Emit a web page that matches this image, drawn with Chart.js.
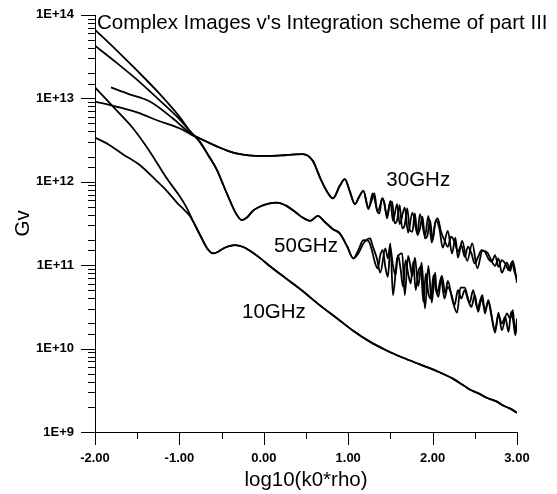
<!DOCTYPE html>
<html lang="en">
<head>
  <meta charset="UTF-8" />
  <title>Complex Images v's Integration scheme of part III</title>
  <script src="https://cdn.jsdelivr.net/npm/chart.js"></script>
  <style>
    body {
      margin: 0;
      background: #fff;
    }
    #chart {
      display: block;
    }
  </style>
</head>
<body>
  <canvas id="chart" width="557" height="494"></canvas>
  <script>
    // values: x = log10(k0*rho), y = log10(Gv)
    const x30a = [-2.00,-1.75,-1.50,-1.25,-1.00,-0.87,-0.70,-0.55,-0.40,-0.28,-0.10,0.07,0.27,0.46,0.58,0.67,0.75,0.82,0.90,0.96,1.02,1.08,1.13,1.18,1.24,1.29,1.35,1.41,1.46,1.50,1.53,1.58,1.61,1.67,1.71,1.76,1.82,1.85,1.91,1.95,1.99,2.04,2.08,2.12,2.18,2.23,2.27,2.30,2.35,2.41,2.47,2.53,2.59,2.65,2.68,2.74,2.78,2.82,2.88,2.92,2.95,3.00];
    const lg30a = [12.96,12.90,12.83,12.73,12.64,12.57,12.49,12.42,12.36,12.33,12.31,12.31,12.32,12.33,12.25,12.04,11.88,11.80,11.95,12.03,11.88,11.73,11.82,11.89,11.67,11.86,11.65,11.80,11.59,11.77,11.53,11.73,11.49,11.69,11.39,11.63,11.38,11.61,11.35,11.59,11.27,11.54,11.44,11.21,11.41,11.14,11.33,11.09,11.29,11.05,11.26,10.96,11.17,11.15,11.09,10.99,11.08,10.91,11.03,10.93,11.05,10.79];

    const x30b = [-1.81,-1.60,-1.35,-1.08,-0.87,-0.70,-0.55,-0.40,-0.28,-0.10,0.07,0.27,0.46,0.58,0.67,0.75,0.82,0.90,0.96,1.02,1.08,1.13,1.18,1.24,
      1.28,1.31,1.34,1.37,1.40,1.43,1.46,1.49,1.52,1.55,1.58,1.61,1.64,1.67,1.70,1.73,1.76,1.79,1.82,1.85,1.88,1.91,1.94,1.97,2.00,2.03,2.06,2.10,2.14,2.18,
      2.22,2.26,2.30,2.34,2.38,2.42,2.46,2.50,2.54,2.58,2.62,2.66,2.70,2.74,2.78,2.82,2.86,2.90,2.94,2.97,3.00];
    const lg30b = [13.13,13.05,12.96,12.76,12.58,12.49,12.42,12.36,12.33,12.31,12.31,12.32,12.33,12.25,12.04,11.88,11.80,11.95,12.03,11.88,11.73,11.82,11.89,11.69,
      11.78,11.86,11.66,11.62,11.80,11.74,11.56,11.72,11.76,11.50,11.54,11.72,11.44,11.48,11.68,11.42,11.40,11.62,11.36,11.44,11.58,11.32,11.36,11.54,11.30,11.50,11.56,11.40,11.30,11.22,
      11.34,11.28,11.16,11.24,11.10,11.22,11.14,11.02,11.10,11.18,11.16,11.08,11.04,11.12,10.98,11.06,11.02,10.94,11.04,10.92,10.84];

    const x50a = [-2.00,-1.75,-1.50,-1.25,-1.00,-0.87,-0.76,-0.66,-0.55,-0.48,-0.40,-0.33,-0.26,-0.20,-0.13,-0.05,0.07,0.15,0.27,0.38,0.46,0.55,0.64,0.72,0.82,0.90,0.99,1.06,1.12,1.18,1.26,1.29,1.34,1.38,1.44,1.47,1.50,1.53,1.58,1.64,1.67,1.71,1.76,1.79,1.83,1.87,1.91,1.95,1.99,2.03,2.05,2.11,2.15,2.18,2.23,2.29,2.33,2.38,2.44,2.48,2.53,2.59,2.62,2.66,2.74,2.78,2.82,2.88,2.92,2.95,2.98,3.00];
    const lg50a = [13.82,13.58,13.33,13.07,12.78,12.60,12.48,12.32,12.13,11.96,11.77,11.62,11.54,11.57,11.65,11.70,11.74,11.75,11.71,11.63,11.57,11.53,11.59,11.52,11.43,11.38,11.22,11.08,11.14,11.26,11.32,11.23,11.08,10.91,11.20,11.08,11.26,10.64,11.08,11.14,10.64,11.11,10.87,11.09,10.75,11.03,10.48,10.99,10.55,10.91,10.66,10.87,10.66,10.81,10.60,10.43,10.73,10.73,10.55,10.70,10.48,10.64,10.42,10.58,10.19,10.43,10.22,10.42,10.36,10.46,10.18,10.36];

    const x50b = [-2.00,-1.75,-1.50,-1.25,-1.00,-0.87,-0.76,-0.66,-0.55,-0.48,-0.40,-0.33,-0.26,-0.20,-0.13,-0.05,0.07,0.15,0.27,0.38,0.46,0.55,0.64,0.72,0.82,0.90,0.99,1.06,1.12,1.18,
      1.24,1.28,1.32,1.35,1.38,1.41,1.44,1.47,1.50,1.53,1.56,1.59,1.62,1.65,1.68,1.71,1.74,1.77,1.80,1.83,1.86,1.89,1.92,1.95,1.98,2.01,2.04,2.07,2.10,2.14,
      2.18,2.22,2.26,2.30,2.34,2.38,2.42,2.46,2.50,2.54,2.58,2.62,2.66,2.70,2.74,2.78,2.82,2.86,2.90,2.93,2.96,2.98,3.00];
    const lg50b = [13.63,13.43,13.22,12.99,12.75,12.60,12.48,12.32,12.13,11.96,11.77,11.62,11.54,11.57,11.65,11.70,11.74,11.75,11.71,11.63,11.57,11.53,11.59,11.52,11.43,11.38,11.22,11.08,11.18,11.30,
      11.29,11.18,11.02,10.96,11.12,11.18,10.98,10.86,11.20,11.00,10.88,11.12,10.96,10.74,11.06,10.90,10.78,11.04,10.70,10.92,10.98,10.56,10.90,10.66,10.60,10.88,10.70,10.62,10.84,10.60,
      10.74,10.66,10.52,10.70,10.60,10.70,10.58,10.50,10.64,10.44,10.60,10.46,10.56,10.38,10.22,10.40,10.30,10.38,10.20,10.44,10.30,10.16,10.32];

    const x10a = [-2.00,-1.83,-1.67,-1.47,-1.27,-1.15,-1.03,-0.94,-0.87,-0.76,-0.67,-0.60,-0.54,-0.48,-0.40,-0.34,-0.25,-0.16,-0.05,0.07,0.25,0.46,0.65,0.87,1.05,1.26,1.45,1.65,1.85,2.05,2.24,2.35,2.44,2.55,2.64,2.75,2.83,2.92,3.00];
    const lg10a = [12.53,12.44,12.33,12.20,12.01,11.89,11.75,11.66,11.58,11.37,11.20,11.14,11.16,11.20,11.23,11.24,11.22,11.17,11.09,10.99,10.85,10.69,10.53,10.36,10.22,10.08,9.98,9.89,9.81,9.73,9.64,9.57,9.51,9.46,9.41,9.37,9.32,9.28,9.23];

    const x10b = [-2.00,-1.75,-1.55,-1.35,-1.15,-1.00,-0.91,-0.84,-0.76,-0.67,-0.60,-0.54,-0.48,-0.40,-0.34,-0.25,-0.16,-0.05,0.07,0.25,0.46,0.65,0.87,1.05,1.26,1.45,1.65,1.85,2.05,2.24,2.35,2.44,2.55,2.64,2.75,2.83,2.92,3.00];
    const lg10b = [13.13,12.86,12.64,12.36,12.04,11.83,11.68,11.53,11.37,11.20,11.14,11.16,11.20,11.23,11.24,11.22,11.17,11.09,10.99,10.85,10.69,10.53,10.36,10.22,10.08,9.98,9.89,9.81,9.73,9.64,9.57,9.51,9.46,9.41,9.37,9.32,9.28,9.23];

    // curve labels and where they sit (data coords)
    const curveLabels = ["30GHz", "50GHz", "10GHz"];
    const labelX = [1.83, 0.50, 0.12];
    const labelY = [1.05e12, 1.7e11, 2.7e10];

    const titleText = "Complex Images v's Integration scheme of part III";
    const xTitle = "log10(k0*rho)";
    const yTitle = "Gv";

    const FONT = '"Liberation Sans", Arial, Helvetica, sans-serif';
    Chart.defaults.font.family = FONT;
    Chart.defaults.color = "#000";

    const toPoints = (xs, lgs) => xs.map((x, i) => ({ x: x, y: Math.pow(10, lgs[i]) }));
    const isDecade = (v) => {
      const e = Math.log10(v);
      return Math.abs(e - Math.round(e)) < 1e-9;
    };

    // axis lines, tick marks and the free text
    const decorations = {
      id: "decorations",
      afterDraw(chart) {
        const { ctx, chartArea: a, scales: { x, y } } = chart;
        ctx.save();
        ctx.strokeStyle = "#000";
        ctx.lineWidth = 1;
        ctx.beginPath();
        ctx.moveTo(a.left + 0.5, a.top);
        ctx.lineTo(a.left + 0.5, a.bottom + 0.5);
        ctx.lineTo(a.right, a.bottom + 0.5);
        ctx.stroke();

        y.ticks.forEach((t) => {
          const len = isDecade(t.value) ? 14 : 7;
          const py = Math.round(y.getPixelForValue(t.value)) + 0.5;
          ctx.beginPath();
          ctx.moveTo(a.left - len, py);
          ctx.lineTo(a.left, py);
          ctx.stroke();
        });
        x.ticks.forEach((t) => {
          const len = Number.isInteger(t.value) ? 13 : 7;
          const px = Math.round(x.getPixelForValue(t.value)) + 0.5;
          ctx.beginPath();
          ctx.moveTo(px, a.bottom);
          ctx.lineTo(px, a.bottom + len);
          ctx.stroke();
        });

        ctx.fillStyle = "#000";
        ctx.font = "20.5px " + FONT;
        ctx.textBaseline = "middle";
        ctx.textAlign = "left";
        ctx.fillText(titleText, a.left + 2, 23);
        ctx.textAlign = "center";
        ctx.fillText(xTitle, (a.left + a.right) / 2, 480);
        curveLabels.forEach((s, i) => {
          ctx.fillText(s, x.getPixelForValue(labelX[i]), y.getPixelForValue(labelY[i]));
        });
        ctx.translate(23, (a.top + a.bottom) / 2);
        ctx.rotate(-Math.PI / 2);
        ctx.fillText(yTitle, 0, 0);
        ctx.restore();
      },
    };

    const line = (label, data) => ({
      label: label,
      data: data,
      borderColor: "#000",
      borderWidth: 1.8,
      pointRadius: 0,
      fill: false,
      cubicInterpolationMode: "monotone",
    });

    const ctx = document.getElementById("chart").getContext("2d");

    new Chart(ctx, {
      type: "line",
      data: {
        datasets: [
          line("30GHz complex images", toPoints(x30a, lg30a)),
          line("30GHz integration", toPoints(x30b, lg30b)),
          line("50GHz complex images", toPoints(x50a, lg50a)),
          line("50GHz integration", toPoints(x50b, lg50b)),
          line("10GHz complex images", toPoints(x10a, lg10a)),
          line("10GHz integration", toPoints(x10b, lg10b)),
        ],
      },
      options: {
        responsive: false,
        animation: false,
        devicePixelRatio: 1,
        layout: { padding: { top: 13, right: 40, left: 0, bottom: 0 } },
        plugins: {
          legend: { display: false },
          tooltip: { enabled: false },
        },
        scales: {
          x: {
            type: "linear",
            min: -2,
            max: 3,
            grid: { display: false, tickLength: 13 },
            border: { display: false },
            ticks: {
              stepSize: 0.5,
              autoSkip: false,
              maxRotation: 0,
              padding: 6,
              font: { size: 13, weight: "bold" },
              callback: (v) => (Number.isInteger(v) ? v.toFixed(2) : ""),
            },
            afterFit: (s) => { s.height = 62; },
          },
          y: {
            type: "logarithmic",
            min: 1e9,
            max: 1e14,
            grid: { display: false, tickLength: 14 },
            border: { display: false },
            ticks: {
              autoSkip: false,
              padding: 7,
              font: { size: 13, weight: "bold" },
              callback: (v) => (isDecade(v) ? "1E+" + Math.round(Math.log10(v)) : ""),
            },
            afterFit: (s) => { s.width = 95; },
          },
        },
      },
      plugins: [decorations],
    });
  </script>
</body>
</html>
